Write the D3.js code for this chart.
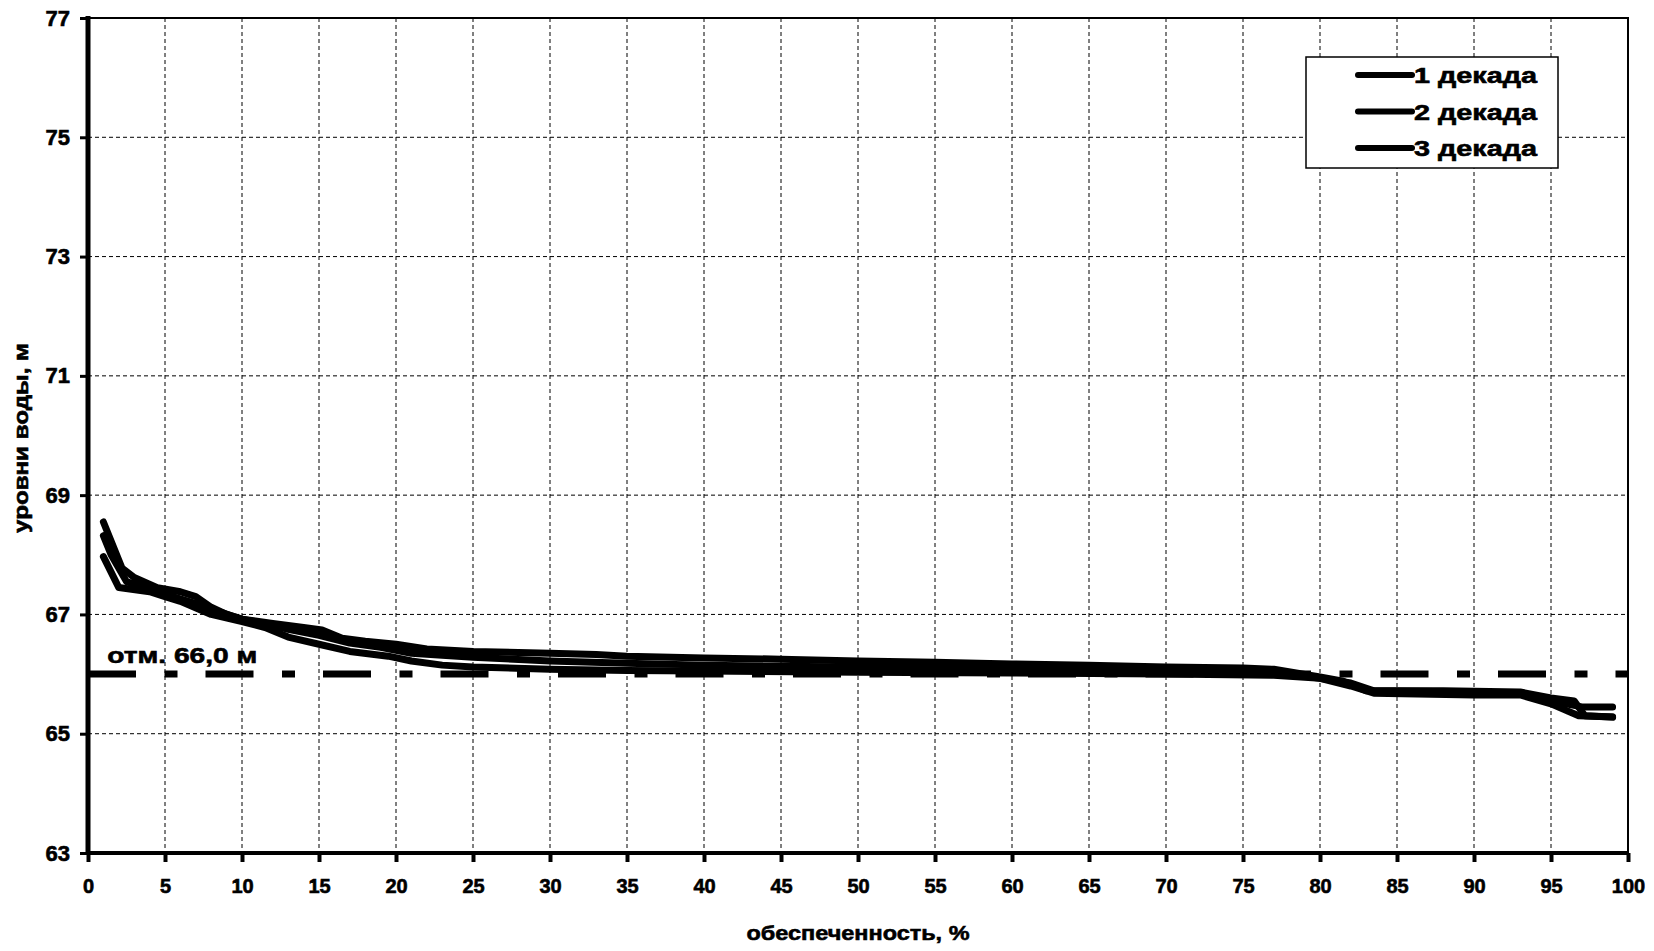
<!doctype html>
<html>
<head>
<meta charset="utf-8">
<style>
    body { margin: 0; background: #fff; }
    text { font-family: "Liberation Sans", Arial, sans-serif; font-weight: bold; fill: #000; stroke: #000; stroke-width: 0.6px; }
    .grid line { stroke: #000; stroke-width: 1; stroke-dasharray: 4,3; }
    .curve { fill: none; stroke: #000; stroke-width: 7; stroke-linejoin: round; stroke-linecap: round; }
</style>
<script src="https://d3js.org/d3.v7.min.js"></script>
</head>
<body>
<svg width="1654" height="951"></svg>
<script>

    // обеспеченность, % и уровни воды, м для каждой декады
    var dec1X = [1, 2.2, 3, 4.5, 6, 7, 8, 9, 10, 12, 14, 15.2, 16.5, 18, 20, 22, 25, 30, 33, 35, 40, 45, 50, 55, 60, 65, 70, 75, 77, 80, 81.5, 83, 88, 93, 95, 96.5, 97.2, 99];
    var dec1Y = [68.55, 67.78, 67.62, 67.45, 67.38, 67.3, 67.12, 67.0, 66.92, 66.85, 66.78, 66.74, 66.6, 66.55, 66.5, 66.42, 66.38, 66.35, 66.33, 66.3, 66.27, 66.25, 66.22, 66.2, 66.17, 66.15, 66.12, 66.1, 66.08, 65.95, 65.88, 65.72, 65.72, 65.7, 65.6, 65.55, 65.3, 65.28];

    var dec2X = [1, 1.5, 2.5, 4, 5.5, 7, 8.5, 10, 12, 13, 15, 17, 19, 21, 25, 30, 35, 40, 45, 50, 55, 60, 65, 70, 75, 78, 80, 82, 83.5, 90, 93, 94.5, 96, 97, 99];
    var dec2Y = [68.32, 68.0, 67.55, 67.42, 67.3, 67.18, 67.05, 66.92, 66.82, 66.75, 66.65, 66.52, 66.45, 66.35, 66.28, 66.22, 66.18, 66.15, 66.13, 66.12, 66.1, 66.08, 66.07, 66.05, 66.03, 66.0, 65.93, 65.85, 65.72, 65.7, 65.68, 65.6, 65.5, 65.45, 65.45];

    var dec3X = [1, 2, 4, 5, 6, 8, 10, 11.5, 13, 15, 17, 19.5, 21, 23, 25, 30, 35, 40, 50, 60, 70, 77, 80, 82, 83.5, 90, 93, 95, 96.8, 99];
    var dec3Y = [67.97, 67.45, 67.38, 67.3, 67.22, 67.0, 66.88, 66.78, 66.62, 66.5, 66.38, 66.3, 66.22, 66.15, 66.12, 66.08, 66.06, 66.05, 66.03, 66.02, 66.0, 65.98, 65.93, 65.8, 65.68, 65.65, 65.65, 65.5, 65.3, 65.28];

    var seriesNames = ["1 декада", "2 декада", "3 декада"];
    var xTicks = [0, 5, 10, 15, 20, 25, 30, 35, 40, 45, 50, 55, 60, 65, 70, 75, 80, 85, 90, 95, 100];
    var yTicks = [63, 65, 67, 69, 71, 73, 75, 77];
    var markLevel = 66.0;
    var markLabel = "отм. 66,0 м";

    var svg = d3.select("svg"),
        pLeft = 88, pRight = 1628, pTop = 18, pBottom = 853;

    var x = d3.scaleLinear().domain([0, 100]).range([pLeft, pRight]),
        y = d3.scaleLinear().domain([63, 77]).range([pBottom, pTop]);

    // сетка
    var grid = svg.append("g").attr("class", "grid");
    grid.selectAll(".vx")
        .data(xTicks.slice(1, -1))
        .enter().append("line")
        .attr("x1", function(d) { return x(d); })
        .attr("x2", function(d) { return x(d); })
        .attr("y1", pTop)
        .attr("y2", pBottom);
    grid.selectAll(".hy")
        .data(yTicks.slice(1, -1))
        .enter().append("line")
        .attr("x1", pLeft)
        .attr("x2", pRight)
        .attr("y1", function(d) { return y(d); })
        .attr("y2", function(d) { return y(d); });

    // рамка сверху и справа
    svg.append("path")
        .attr("d", "M" + pLeft + "," + pTop + "H" + pRight + "V" + pBottom)
        .attr("fill", "none")
        .attr("stroke", "#000")
        .attr("stroke-width", 2);

    // отметка 66,0 м
    svg.append("line")
        .attr("x1", x(0))
        .attr("x2", x(100))
        .attr("y1", y(markLevel))
        .attr("y2", y(markLevel))
        .attr("stroke", "#000")
        .attr("stroke-width", 7)
        .attr("stroke-dasharray", "48,28.5,13,28");

    svg.append("text")
        .attr("x", x(1.25))
        .attr("y", y(markLevel) - 11)
        .attr("font-size", "22px")
        .attr("textLength", 150)
        .attr("lengthAdjust", "spacingAndGlyphs")
        .text(markLabel);

    // кривые
    var line = d3.line()
        .x(function(d) { return x(d[0]); })
        .y(function(d) { return y(d[1]); });

    var series = [d3.zip(dec1X, dec1Y), d3.zip(dec2X, dec2Y), d3.zip(dec3X, dec3Y)];
    svg.selectAll(".curve")
        .data(series)
        .enter().append("path")
        .attr("class", "curve")
        .attr("d", line);

    // оси
    var xAxis = svg.append("g")
        .attr("transform", "translate(0," + pBottom + ")")
        .call(d3.axisBottom(x).tickValues(xTicks).tickSize(9).tickPadding(17));
    xAxis.select(".domain").attr("stroke-width", 4).attr("d", "M" + (pLeft - 2) + ",0H" + pRight);
    xAxis.selectAll(".tick line").attr("stroke-width", 4);
    xAxis.selectAll("text").attr("font-size", "20px").attr("font-family", null);

    var yAxis = svg.append("g")
        .attr("transform", "translate(" + pLeft + ",0)")
        .call(d3.axisLeft(y).tickValues(yTicks).tickSize(8).tickPadding(10));
    yAxis.select(".domain").attr("stroke-width", 5).attr("d", "M0," + (pTop - 2) + "V" + (pBottom + 2));
    yAxis.selectAll(".tick line").attr("stroke-width", 3);
    yAxis.selectAll("text").attr("font-size", "22px").attr("font-family", null);

    // подписи осей
    svg.append("text")
        .attr("transform", "translate(28,438) rotate(-90)")
        .attr("text-anchor", "middle")
        .attr("font-size", "21px")
        .attr("textLength", 190)
        .attr("lengthAdjust", "spacingAndGlyphs")
        .text("уровни воды, м");

    svg.append("text")
        .attr("x", 858)
        .attr("y", 940)
        .attr("text-anchor", "middle")
        .attr("font-size", "21px")
        .attr("textLength", 223)
        .attr("lengthAdjust", "spacingAndGlyphs")
        .text("обеспеченность, %");

    // легенда
    var legend = svg.append("g").attr("transform", "translate(1306,57)");
    legend.append("rect")
        .attr("width", 252)
        .attr("height", 111)
        .attr("fill", "#fff")
        .attr("stroke", "#000")
        .attr("stroke-width", 1.5);
    var item = legend.selectAll(".item")
        .data(seriesNames)
        .enter().append("g")
        .attr("transform", function(d, i) { return "translate(0," + (18 + i * 36.5) + ")"; });
    item.append("line")
        .attr("x1", 52).attr("x2", 106)
        .attr("stroke", "#000")
        .attr("stroke-width", 6)
        .attr("stroke-linecap", "round");
    item.append("text")
        .attr("x", 108)
        .attr("y", 8)
        .attr("font-size", "22px")
        .attr("textLength", 123)
        .attr("lengthAdjust", "spacingAndGlyphs")
        .text(function(d) { return d; });

</script>
</body>
</html>
